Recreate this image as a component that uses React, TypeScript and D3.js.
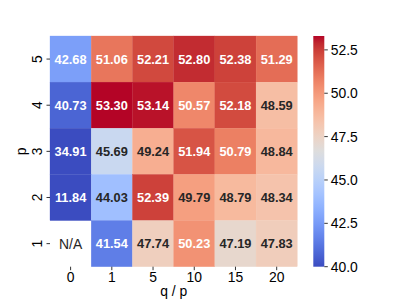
import * as d3 from "d3";

// heatmap values, rows top to bottom (p = 5..1), columns q/p
const rowLabels = ["5", "4", "3", "2", "1"];
const colLabels = ["0", "1", "5", "10", "15", "20"];
const row5 = [42.68, 51.06, 52.21, 52.8, 52.38, 51.29];
const row4 = [40.73, 53.3, 53.14, 50.57, 52.18, 48.59];
const row3 = [34.91, 45.69, 49.24, 51.94, 50.79, 48.84];
const row2 = [11.84, 44.03, 52.39, 49.79, 48.79, 48.34];
const row1 = [NaN, 41.54, 47.74, 50.23, 47.19, 47.83];
const values = [row5, row4, row3, row2, row1];
const cbTicks = [40.0, 42.5, 45.0, 47.5, 50.0, 52.5];
const vmin = 40;
const vmax = 53.3;

// matplotlib coolwarm (Moreland) control points
const cwStops = [
  [59, 76, 192], [68, 90, 204], [77, 104, 215], [87, 117, 225], [98, 130, 234],
  [108, 142, 241], [119, 154, 247], [130, 165, 251], [141, 176, 254], [152, 185, 255],
  [163, 194, 255], [174, 201, 253], [184, 208, 249], [194, 213, 244], [204, 217, 238],
  [213, 219, 230], [221, 221, 221], [229, 216, 209], [236, 211, 197], [241, 204, 185],
  [245, 196, 173], [247, 187, 160], [247, 177, 148], [247, 166, 135], [244, 154, 123],
  [241, 141, 111], [236, 127, 99], [229, 112, 88], [222, 96, 77], [213, 80, 66],
  [203, 62, 56], [192, 40, 47], [180, 4, 38],
];

const coolwarm = d3
  .scaleLinear<string>()
  .domain(cwStops.map((_, i) => i / (cwStops.length - 1)))
  .range(cwStops.map((c) => `rgb(${c[0]},${c[1]},${c[2]})`))
  .interpolate(d3.interpolateRgb)
  .clamp(true);

const norm = d3.scaleLinear().domain([vmin, vmax]).range([0, 1]).clamp(true);
const colorOf = (v: number) => coolwarm(norm(v));

function luminance(c: string) {
  const rgb = d3.rgb(c);
  const lin = (x: number) => {
    x = x / 255;
    return x <= 0.03928 ? x / 12.92 : Math.pow((x + 0.055) / 1.055, 2.4);
  };
  return 0.2126 * lin(rgb.r) + 0.7152 * lin(rgb.g) + 0.0722 * lin(rgb.b);
}

const App = () => {
  const W = 399, H = 300;
  const left = 50, right = 297.3, top = 36, bottom = 266.7;
  const font = "'Liberation Sans', Arial, sans-serif";

  const x = d3.scaleBand().domain(colLabels).range([left, right]);
  const y = d3.scaleBand().domain(rowLabels).range([top, bottom]);

  const cbX = 313.3, cbW = 11;
  const cbY = d3.scaleLinear().domain([vmin, vmax]).range([bottom, top]);
  const gradStops = d3.range(0, 1.0001, 1 / 32);

  const cells: any[] = [];
  values.forEach((row, i) => {
    row.forEach((v, j) => {
      cells.push({ r: rowLabels[i], c: colLabels[j], v });
    });
  });

  return (
    <svg width={W} height={H} style={{ position: "absolute", left: 0, top: 0 }}>
      <defs>
        <linearGradient id="cb" x1="0" y1="1" x2="0" y2="0">
          {gradStops.map((t, i) => (
            <stop key={i} offset={t} stopColor={coolwarm(t)} />
          ))}
        </linearGradient>
      </defs>
      <rect width={W} height={H} fill="#fff" />
      {cells.map((d, i) =>
        isNaN(d.v) ? null : (
          <rect
            key={i}
            x={x(d.c)}
            y={y(d.r)}
            width={x.bandwidth()}
            height={y.bandwidth()}
            fill={colorOf(d.v)}
            stroke={colorOf(d.v)}
            strokeWidth={0.3}
          />
        )
      )}
      {cells.map((d, i) => {
        const cx = (x(d.c) as number) + x.bandwidth() / 2;
        const cy = (y(d.r) as number) + y.bandwidth() / 2;
        if (isNaN(d.v)) {
          return (
            <text key={"t" + i} x={cx} y={cy} dy="0.36em" textAnchor="middle"
              fontFamily={font} fontSize={13.9} fill="#262626">N/A</text>
          );
        }
        const txtColor = luminance(colorOf(d.v)) > 0.408 ? "#262626" : "#fff";
        return (
          <text key={"t" + i} x={cx} y={cy} dy="0.36em" textAnchor="middle"
            fontFamily={font} fontSize={12.8} fontWeight="bold" fill={txtColor}>
            {d.v.toFixed(2)}
          </text>
        );
      })}
      {/* x axis */}
      {colLabels.map((c) => {
        const cx = (x(c) as number) + x.bandwidth() / 2;
        return (
          <g key={"x" + c}>
            <line x1={cx} x2={cx} y1={bottom} y2={bottom + 3.5} stroke="#000" strokeWidth={0.8} />
            <text x={cx} y={282.3} textAnchor="middle" fontFamily={font} fontSize={13.9} fill="#000">{c}</text>
          </g>
        );
      })}
      <text x={(left + right) / 2} y={295.5} textAnchor="middle" fontFamily={font} fontSize={13.9} fill="#000">q / p</text>
      {/* y axis */}
      {rowLabels.map((r) => {
        const cy = (y(r) as number) + y.bandwidth() / 2;
        return (
          <g key={"y" + r}>
            <line x1={left - 3.5} x2={left} y1={cy} y2={cy} stroke="#000" strokeWidth={0.8} />
            <text transform={`translate(41.5,${cy}) rotate(-90)`} textAnchor="middle" fontFamily={font} fontSize={13.9} fill="#000">{r}</text>
          </g>
        );
      })}
      <text transform={`translate(26,${(top + bottom) / 2}) rotate(-90)`} textAnchor="middle" fontFamily={font} fontSize={13.9} fill="#000">p</text>
      {/* colorbar */}
      <rect x={cbX} y={top} width={cbW} height={bottom - top} fill="url(#cb)" />
      {cbTicks.map((t) => (
        <g key={"cb" + t}>
          <line x1={cbX + cbW} x2={cbX + cbW + 3.5} y1={cbY(t)} y2={cbY(t)} stroke="#000" strokeWidth={0.8} />
          <text x={cbX + cbW + 6.5} y={cbY(t)} dy="0.36em" fontFamily={font} fontSize={13.9} fill="#000">{t.toFixed(1)}</text>
        </g>
      ))}
    </svg>
  );
};

export default App;
